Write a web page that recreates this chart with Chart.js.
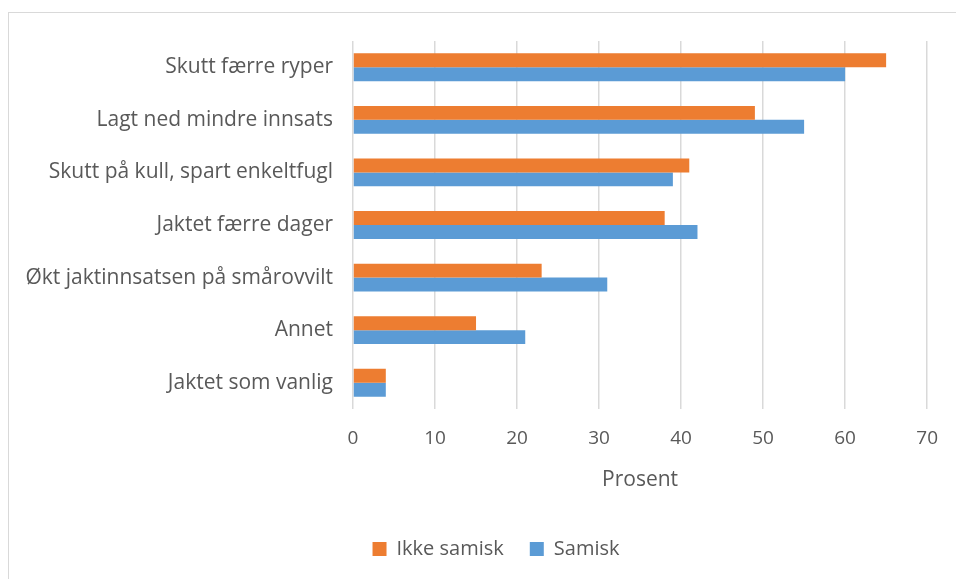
<!DOCTYPE html>
<html>
<head>
<meta charset="utf-8">
<script src="https://cdn.jsdelivr.net/npm/chart.js@4"></script>
<style>
  html,body{margin:0;padding:0;background:#fff;}
  #wrap{position:relative;width:956px;height:579px;overflow:hidden;}
  #frame{position:absolute;left:8px;top:12px;width:960px;height:600px;border:1px solid #d9d9d9;box-sizing:border-box;}
  canvas{position:absolute;left:0;top:0;}
</style>
</head>
<body>
<div id="wrap">
  <div id="frame"></div>
  <canvas id="chart" width="956" height="579"></canvas>
</div>
<script>
// ---- data ----
const categories = [
  'Skutt færre ryper',
  'Lagt ned mindre innsats',
  'Skutt på kull, spart enkeltfugl',
  'Jaktet færre dager',
  'Økt jaktinnsatsen på smårovvilt',
  'Annet',
  'Jaktet som vanlig'
];
const ikkeSamisk = [65, 49, 41, 38, 23, 15, 4];
const samisk = [60, 55, 39, 42, 31, 21, 4];
const xTicks = [0, 10, 20, 30, 40, 50, 60, 70];

const textColor = '#595959';
const font = 'Open Sans';

// shift the legend a bit to the right, like the original
const legendShift = {
  id: 'legendShift',
  beforeDraw(chart){
    const lg = chart.legend;
    if(lg && !lg._shifted){ lg.left += 32; lg.right += 32; lg._shifted = true; }
  }
};

const ctx = document.getElementById('chart').getContext('2d');
new Chart(ctx, {
  type: 'bar',
  data: {
    labels: categories,
    datasets: [
      {label: 'Ikke samisk', data: ikkeSamisk, backgroundColor: '#ED7D31', barPercentage: 1, categoryPercentage: 0.53},
      {label: 'Samisk', data: samisk, backgroundColor: '#5B9BD5', barPercentage: 1, categoryPercentage: 0.53}
    ]
  },
  plugins: [legendShift],
  options: {
    indexAxis: 'y',
    responsive: false,
    animation: false,
    layout: {padding: {top: 41, right: 28, bottom: 10, left: 0}},
    plugins: {
      legend: {
        position: 'bottom',
        labels: {boxWidth: 14, boxHeight: 14, padding: 26, color: textColor, font: {family: font, size: 20}}
      },
      tooltip: {enabled: false}
    },
    scales: {
      x: {
        min: 0, max: 70,
        afterBuildTicks: s => { s.ticks = xTicks.map(v => ({value: v})); },
        grid: {color: '#d9d9d9', lineWidth: 1.5, drawTicks: false},
        border: {display: false},
        ticks: {color: textColor, padding: 18, font: {family: font, size: 19}},
        title: {display: true, text: 'Prosent', color: textColor, padding: {top: 0, bottom: 20}, font: {family: font, size: 21}},
        afterFit: s => { s.height = 104; }
      },
      y: {
        grid: {display: false},
        border: {display: false},
        ticks: {color: textColor, padding: 12, font: {family: font, size: 21}},
        afterFit: s => { s.width = 353; }
      }
    }
  }
});
</script>
</body>
</html>
